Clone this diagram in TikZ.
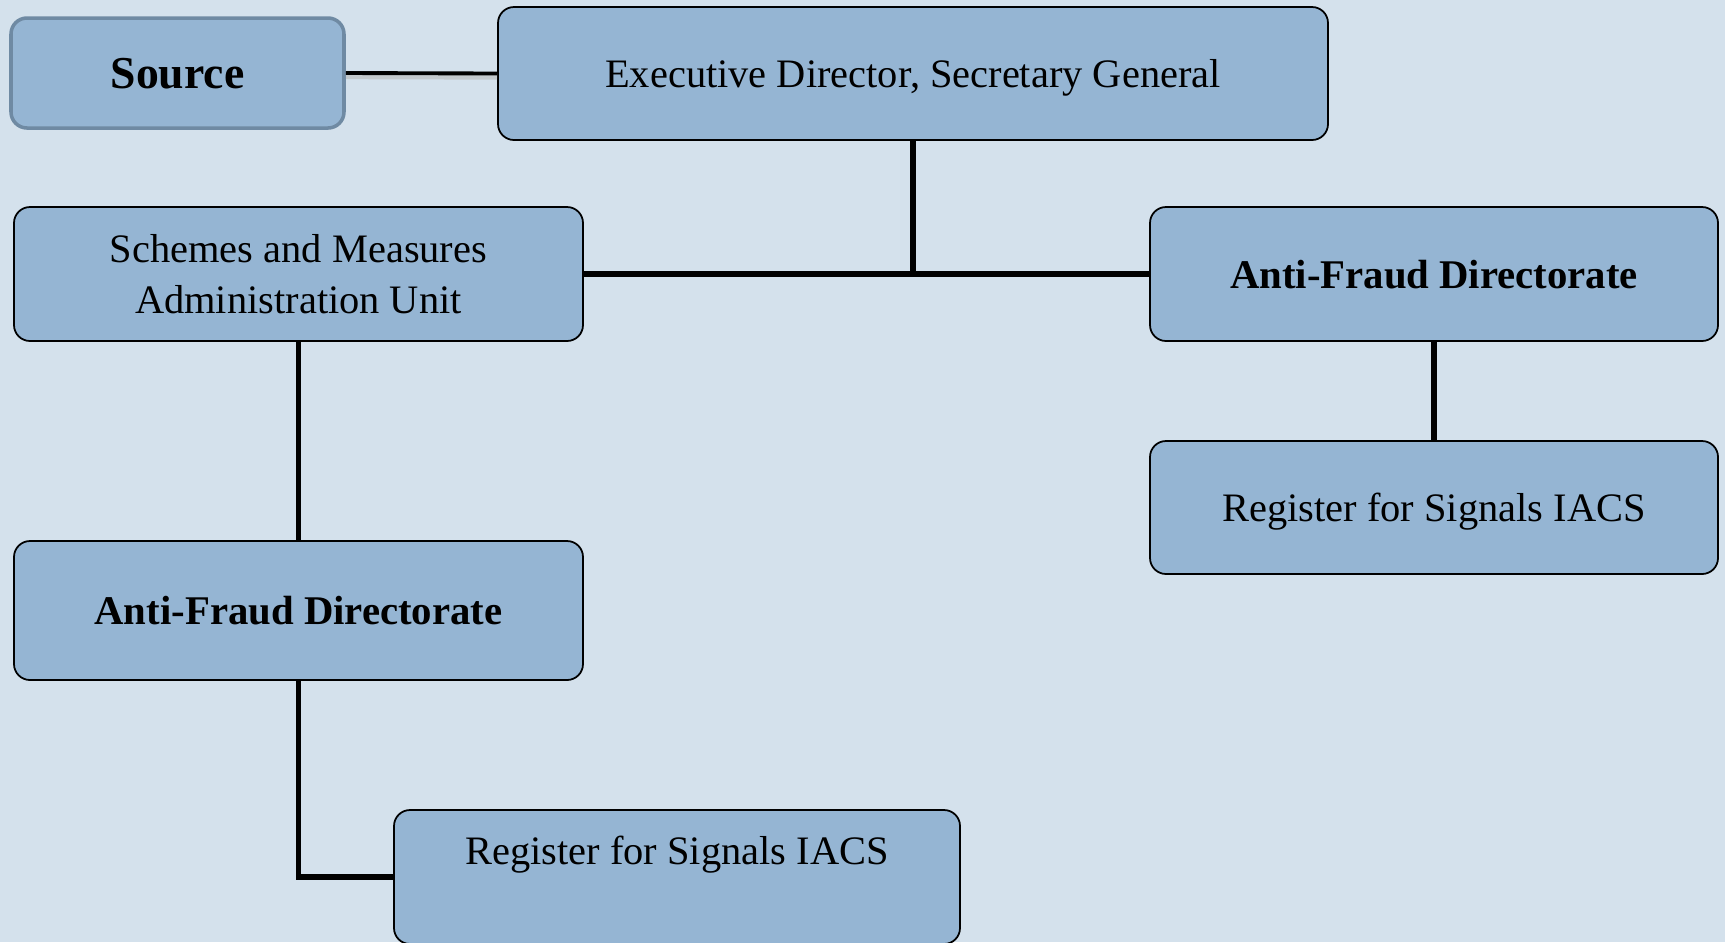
\documentclass[tikz,border=0pt]{standalone}
\usepackage{fontspec}
\setmainfont{Liberation Serif}
\definecolor{bgblue}{HTML}{D4E1EC}
\definecolor{boxblue}{HTML}{95B5D3}
\definecolor{srcedge}{HTML}{6F8AA3}
\tikzset{
	box/.style={draw=black, line width=0.5pt, fill=boxblue, rounded corners=1.6mm, align=center, inner sep=0pt, text depth=0pt, font=\fontsize{11.5}{14.4}\selectfont},
	bbox/.style={box, font=\fontsize{11.6}{14}\selectfont\bfseries},
	srcbox/.style={box, draw=srcedge, line width=1pt, font=\fontsize{13}{15}\selectfont\bfseries},
	link/.style={line width=1.6pt},
	srclink/.style={line width=1.1pt},
	srcshade/.style={line width=1.8pt, gray!55, opacity=0.6}
}

\begin{document}
\begin{tikzpicture}[x=0.1mm,y=-0.1mm]
	\useasboundingbox (0,0) rectangle (1725,942);
	\fill[bgblue] (0,0) rectangle (1725,942);
	\clip (0,0) rectangle (1725,942);
	\node[srcbox, minimum width=33.3mm, minimum height=11mm] (src) at (177.5,73) {Source};
	\node[box, minimum width=83mm, minimum height=13.3mm] (exec) at (913,73.5) {Executive Director, Secretary General};
	\node[box, minimum width=56.9mm, minimum height=13.4mm] (schemes) at (298.5,274) {Schemes and Measures\\Administration Unit};
	\node[bbox, minimum width=56.8mm, minimum height=13.4mm] (afdr) at (1434,274) {Anti-Fraud Directorate};
	\node[box, minimum width=56.8mm, minimum height=13.3mm] (regr) at (1434,507.5) {Register for Signals IACS};
	\node[bbox, minimum width=56.9mm, minimum height=13.9mm] (afdl) at (298.5,610.5) {Anti-Fraud Directorate};
	\node[box, minimum width=56.6mm, minimum height=13.4mm, text depth=15.5pt] (regl) at (677,877) {Register for Signals IACS};
	
	\draw[srcshade] ([yshift=-0.3mm]src.east) -- ([yshift=-0.3mm]exec.west);
	\draw[srclink] (src.east) -- (exec.west);
	\draw[link] (exec.south) -- (exec.south |- schemes.east);
	\draw[link] (schemes.east) -- (afdr.west);
	\draw[link] (schemes.south) -- (afdl.north);
	\draw[link] (afdl.south) |- (regl.west);
	\draw[link] (afdr.south) -- (regr.north);
\end{tikzpicture}
\end{document}
